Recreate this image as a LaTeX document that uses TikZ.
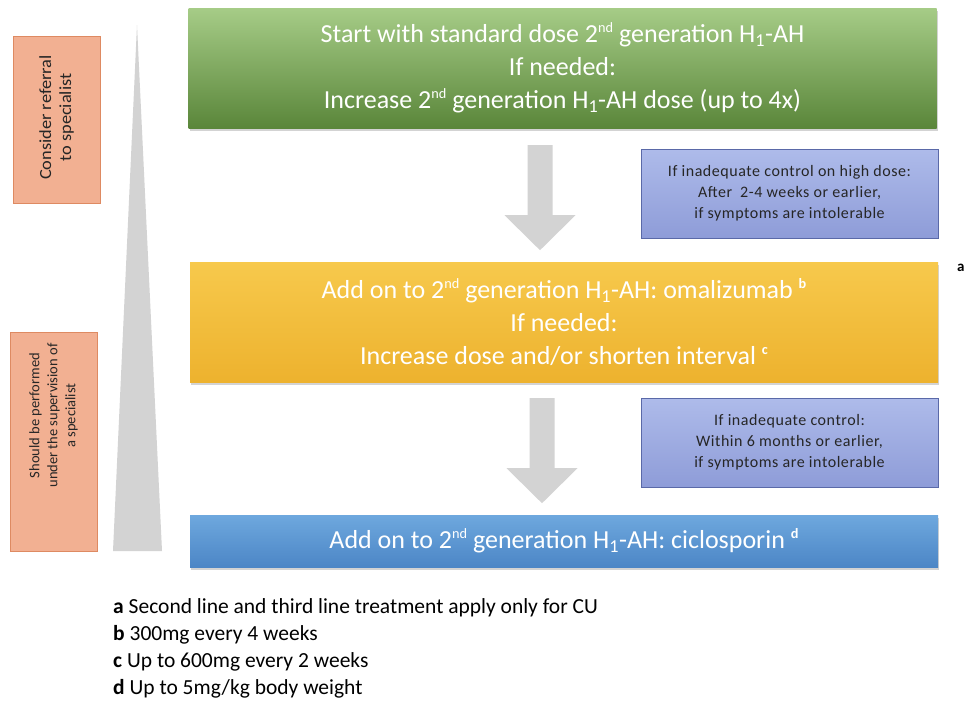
\documentclass[tikz,border=0pt]{standalone}
\usepackage{fontspec}
\setmainfont{Carlito}
\usetikzlibrary{shadows}

\definecolor{greentop}{HTML}{A6CC87}
\definecolor{greenbot}{HTML}{5A863A}
\definecolor{yellowtop}{HTML}{F7C94C}
\definecolor{yellowbot}{HTML}{EDB22E}
\definecolor{bluetop}{HTML}{6EA8DE}
\definecolor{bluebot}{HTML}{4C86C6}
\definecolor{notetop}{HTML}{AEBBEA}
\definecolor{notebot}{HTML}{8E9CD8}
\definecolor{noteline}{HTML}{5A69A8}
\definecolor{sidefill}{HTML}{F2B092}
\definecolor{sideline}{HTML}{DE8A62}
\definecolor{bargray}{HTML}{D3D3D3}

% small raised ordinal / footnote marks
\newcommand{\upmark}[1]{\raisebox{0.8ex}{\scalebox{0.55}{#1}}}
\newcommand{\Hone}{H\textsubscript{1}}

\tikzset{
  stagebox/.style={minimum width=748pt, inner sep=0pt, align=center,
    text=white, font=\fontsize{26}{33}\selectfont,
    drop shadow={opacity=0.35, shadow xshift=1pt, shadow yshift=-3pt}},
  notebox/.style={draw=noteline, top color=notetop, bottom color=notebot,
    minimum width=297pt, minimum height=89pt, inner sep=0pt, align=center,
    text=black!85, font=\fontsize{16}{21}\selectfont\addfontfeature{LetterSpace=3.5}},
  sidebox/.style={draw=sideline, fill=sidefill, rotate=90, inner sep=0pt,
    minimum height=87pt},
  sidetext/.style={rotate=90, inner sep=0pt, align=center, text=black!85},
  blockarrow/.pic={
    \fill[bargray] (-12.5,0) -- (12.5,0) -- (12.5,70) -- (35.5,70)
      -- (0,105) -- (-35.5,70) -- (-12.5,70) -- cycle;
  }
}

\begin{document}
\begin{tikzpicture}[x=1pt,y=-1pt]
\useasboundingbox (0,0) rectangle (965,702);

% tapering bar on the left
\fill[bargray] (137,25) -- (162,551) -- (113,551) -- cycle;

% side notes
\node[sidebox, minimum width=167pt] (refer) at (56.5,119.5) {};
\node[sidetext, xscale=1.08, font=\fontsize{17}{20}\selectfont] (refertext)
  at ([yshift=2pt]refer.center)
  {Consider referral\\to specialist};
\node[sidebox, minimum width=219pt] (super) at (53.5,441.5) {};
\node[sidetext, font=\fontsize{14.5}{18}\selectfont] (supertext)
  at ([yshift=26pt]super.center)
  {Should be performed\\under the supervision of\\a specialist};

% treatment steps
\node[stagebox, minimum height=120pt, top color=greentop, bottom color=greenbot]
  (first) at (562.5,68)
  {Start with standard dose 2\upmark{nd} generation \Hone-AH\\
   If needed:\\
   Increase 2\upmark{nd} generation \Hone-AH dose (up to 4x)};
\node[stagebox, minimum height=120pt, top color=yellowtop, bottom color=yellowbot]
  (second) at (564,322)
  {Add on to 2\upmark{nd} generation \Hone-AH: omalizumab \upmark{\textbf{b}}\\
   If needed:\\
   Increase dose and/or shorten interval \upmark{\textbf{c}}};
\node[stagebox, minimum height=52pt, top color=bluetop, bottom color=bluebot]
  (third) at (564,541)
  {Add on to 2\upmark{nd} generation \Hone-AH: ciclosporin \upmark{\textbf{d}}};

\node[font=\fontsize{15}{18}\selectfont\bfseries, anchor=west, inner sep=0pt]
  (marka) at (957,268) {a};

% when to move on
\node[notebox] (note1) at (789.5,193.5)
  {If inadequate control on high dose:\\After\enspace2-4 weeks or earlier,\\if symptoms are intolerable};
\node[notebox] (note2) at (789.5,442.5)
  {If inadequate control:\\Within 6 months or earlier,\\if symptoms are intolerable};

% step arrows
\pic at ([xshift=-22.5pt,yshift=-17pt]first.south) {blockarrow};
\pic at ([xshift=-22pt,yshift=-16pt]second.south) {blockarrow};

% footnotes
\node[anchor=north west, align=left, inner sep=0pt,
  font=\fontsize{21.5}{27}\selectfont] (notes) at (113,598)
  {\textbf{a} Second line and third line treatment apply only for CU\\
   \textbf{b} 300mg every 4 weeks\\
   \textbf{c} Up to 600mg every 2 weeks\\
   \textbf{d} Up to 5mg/kg body weight};
\end{tikzpicture}
\end{document}
